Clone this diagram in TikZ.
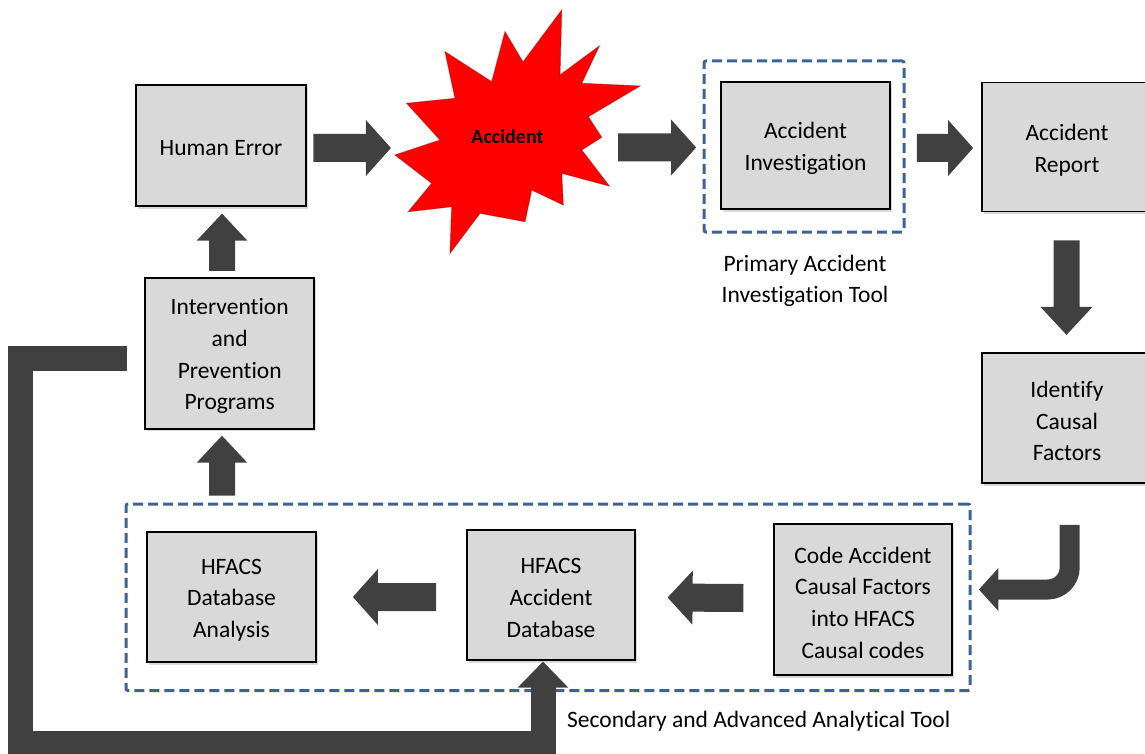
\documentclass[tikz,border=0pt]{standalone}
\usepackage{fontspec}
\setmainfont{Carlito}[Ligatures=CommonOff]
\usetikzlibrary{calc,shadows}
\definecolor{boxgray}{RGB}{217,217,217}
\definecolor{arrowgray}{RGB}{64,64,64}
\definecolor{groupblue}{RGB}{62,98,148}
\definecolor{blastred}{RGB}{255,0,0}
\newcommand\lblfont{\fontsize{23.5}{31.7}\selectfont}

% straight block arrow: #1 tail, #2 tip, #3 half shaft width, #4 half head width, #5 head length
\newcommand\blockarrow[5]{%
  \path (#1) coordinate (ba-t) (#2) coordinate (ba-h);
  \path ($(ba-h)!#5!(ba-t)$) coordinate (ba-b);
  \fill[blockfill]
    ($(ba-t)!#3!90:(ba-h)$) -- ($(ba-b)!#3!90:(ba-h)$) -- ($(ba-b)!#4!90:(ba-h)$)
    -- (ba-h)
    -- ($(ba-b)!#4!-90:(ba-h)$) -- ($(ba-b)!#3!-90:(ba-h)$) -- ($(ba-t)!#3!-90:(ba-h)$)
    -- cycle;}

\begin{document}
\begin{tikzpicture}[x=1pt,y=-1pt,
  box/.style={draw=black, line width=1.8, fill=boxgray, inner sep=0pt,
    drop shadow={shadow xshift=2pt, shadow yshift=-2.5pt, opacity=0.3}},
  boxtext/.style={font=\lblfont, align=center, inner sep=0pt, yshift=-3pt},
  grp/.style={draw=groupblue, line width=3, dash pattern=on 10pt off 5pt,
    rounded corners=2pt, inner sep=0pt},
  caption/.style={font=\lblfont, align=center, inner sep=0pt},
  blockfill/.style={fill=arrowgray},
  blockline/.style={draw=arrowgray, line join=miter, line cap=butt}
]
\useasboundingbox (0,0) rectangle (1145,754);
\clip (0,0) rectangle (1145,754);

% dashed tool groups
\node[grp, minimum width=200, minimum height=171] (primary) at (804,146.5) {};
\node[grp, minimum width=844, minimum height=186.5] (secondary) at (548,597.25) {};

% process boxes
\node[box, minimum width=170, minimum height=121, label={[boxtext]center:Human Error}]
  (he) at (221,145.5) {};
\node[box, minimum width=169, minimum height=127.5, label={[boxtext]center:Accident\\Investigation}]
  (ai) at (805.5,145.5) {};
\node[box, minimum width=170, minimum height=129, label={[boxtext]center:Accident\\Report}]
  (ar) at (1067,147) {};
\node[box, minimum width=170, minimum height=130, label={[boxtext]center:Identify\\Causal\\Factors}]
  (idf) at (1067,418) {};
\node[box, minimum width=169, minimum height=151, label={[boxtext]center:Intervention\\and\\Prevention\\Programs}]
  (ip) at (229.7,353.3) {};
\node[box, minimum width=169, minimum height=130, label={[boxtext]center:HFACS\\Database\\Analysis}]
  (hda) at (231.5,597) {};
\node[box, minimum width=168, minimum height=130, label={[boxtext]center:HFACS\\Accident\\Database}]
  (had) at (551,595) {};
\node[box, minimum width=178, minimum height=151, label={[boxtext]center:Code Accident\\Causal Factors\\into HFACS\\Causal codes}]
  (code) at (863,599.5) {};

% the accident burst
\draw[fill=blastred, draw=red!55!black, draw opacity=0.45, line width=1, line join=miter]
  (561.7,10) -- (560,75) -- (599.3,46) -- (581.7,83.3) -- (640,86) -- (588.3,116.7)
  -- (601.7,137.3) -- (581.7,150) -- (609.3,186) -- (561.7,173.3) -- (563.3,205)
  -- (531.7,190) -- (525,221.7) -- (480,213.3) -- (450,253.3) -- (451.7,206.7)
  -- (408.3,211.7) -- (431.7,183.3) -- (395,155) -- (440,140) -- (406.7,103.3)
  -- (455,98.3) -- (445,51.7) -- (491.7,81.7) -- (505,31.7) -- (523,62) -- cycle;
\node[font=\fontsize{20}{24}\selectfont\bfseries, inner sep=0pt] (acc) at (507.5,137) {Accident};

% captions of the tool groups
\node[caption] (primarycap) at (805,281) {Primary Accident\\Investigation Tool};
\node[caption, anchor=base west] (secondarycap) at (567,727) {Secondary and Advanced Analytical Tool};

% block arrows along the process
\blockarrow{$(he.east)+(6.5,2.5)$}{$(he.east)+(84,2.5)$}{14pt}{28pt}{25pt}
\blockarrow{$(ai.west)+(-102,2)$}{$(ai.west)+(-24,2)$}{14pt}{28pt}{25pt}
\blockarrow{$(ai.east)+(26,2.5)$}{$(ar.west)+(-8,1)$}{14pt}{28pt}{25pt}
\blockarrow{$(ar.south)+(-0.5,28)$}{$(ar.south)+(-0.5,122.5)$}{13pt}{26pt}{28pt}
\blockarrow{$(code.west)+(-29.7,-1.5)$}{$(had.east)+(31.7,2.5)$}{14pt}{27pt}{25pt}
\blockarrow{$(had.west)+(-30,2)$}{$(hda.east)+(36,0)$}{14pt}{28pt}{25pt}
\blockarrow{$(ip.south)+(-7.7,66)$}{$(ip.south)+(-7.7,6)$}{13pt}{25.3pt}{27pt}
\blockarrow{$(ip.north)+(-7.7,-6)$}{$(he.south)+(1,6.7)$}{13pt}{25.3pt}{27pt}

% bent arrow from the causal factors into the coding step
\coordinate (bend-tip) at ($(code.east)+(26,-10)$);
\draw[blockline, line width=20, rounded corners=22]
  ($(idf.south)+(2.7,41)$) |- ($(bend-tip)+(19,0)$);
\fill[blockfill] (bend-tip) -- ($(bend-tip)+(19.5,-21.5)$) -- ($(bend-tip)+(19.5,21.5)$) -- cycle;

% feedback loop from the programs back to the database
\coordinate (loop-tip) at ($(had.south)+(-8,0.7)$);
\draw[blockline, line width=25]
  ($(ip.west)+(-17,4.7)$) -| (20,743) -| ($(loop-tip)+(0,25.5)$);
\fill[blockfill] (loop-tip) -- ($(loop-tip)+(-25.3,26)$) -- ($(loop-tip)+(25.3,26)$) -- cycle;
\end{tikzpicture}
\end{document}
